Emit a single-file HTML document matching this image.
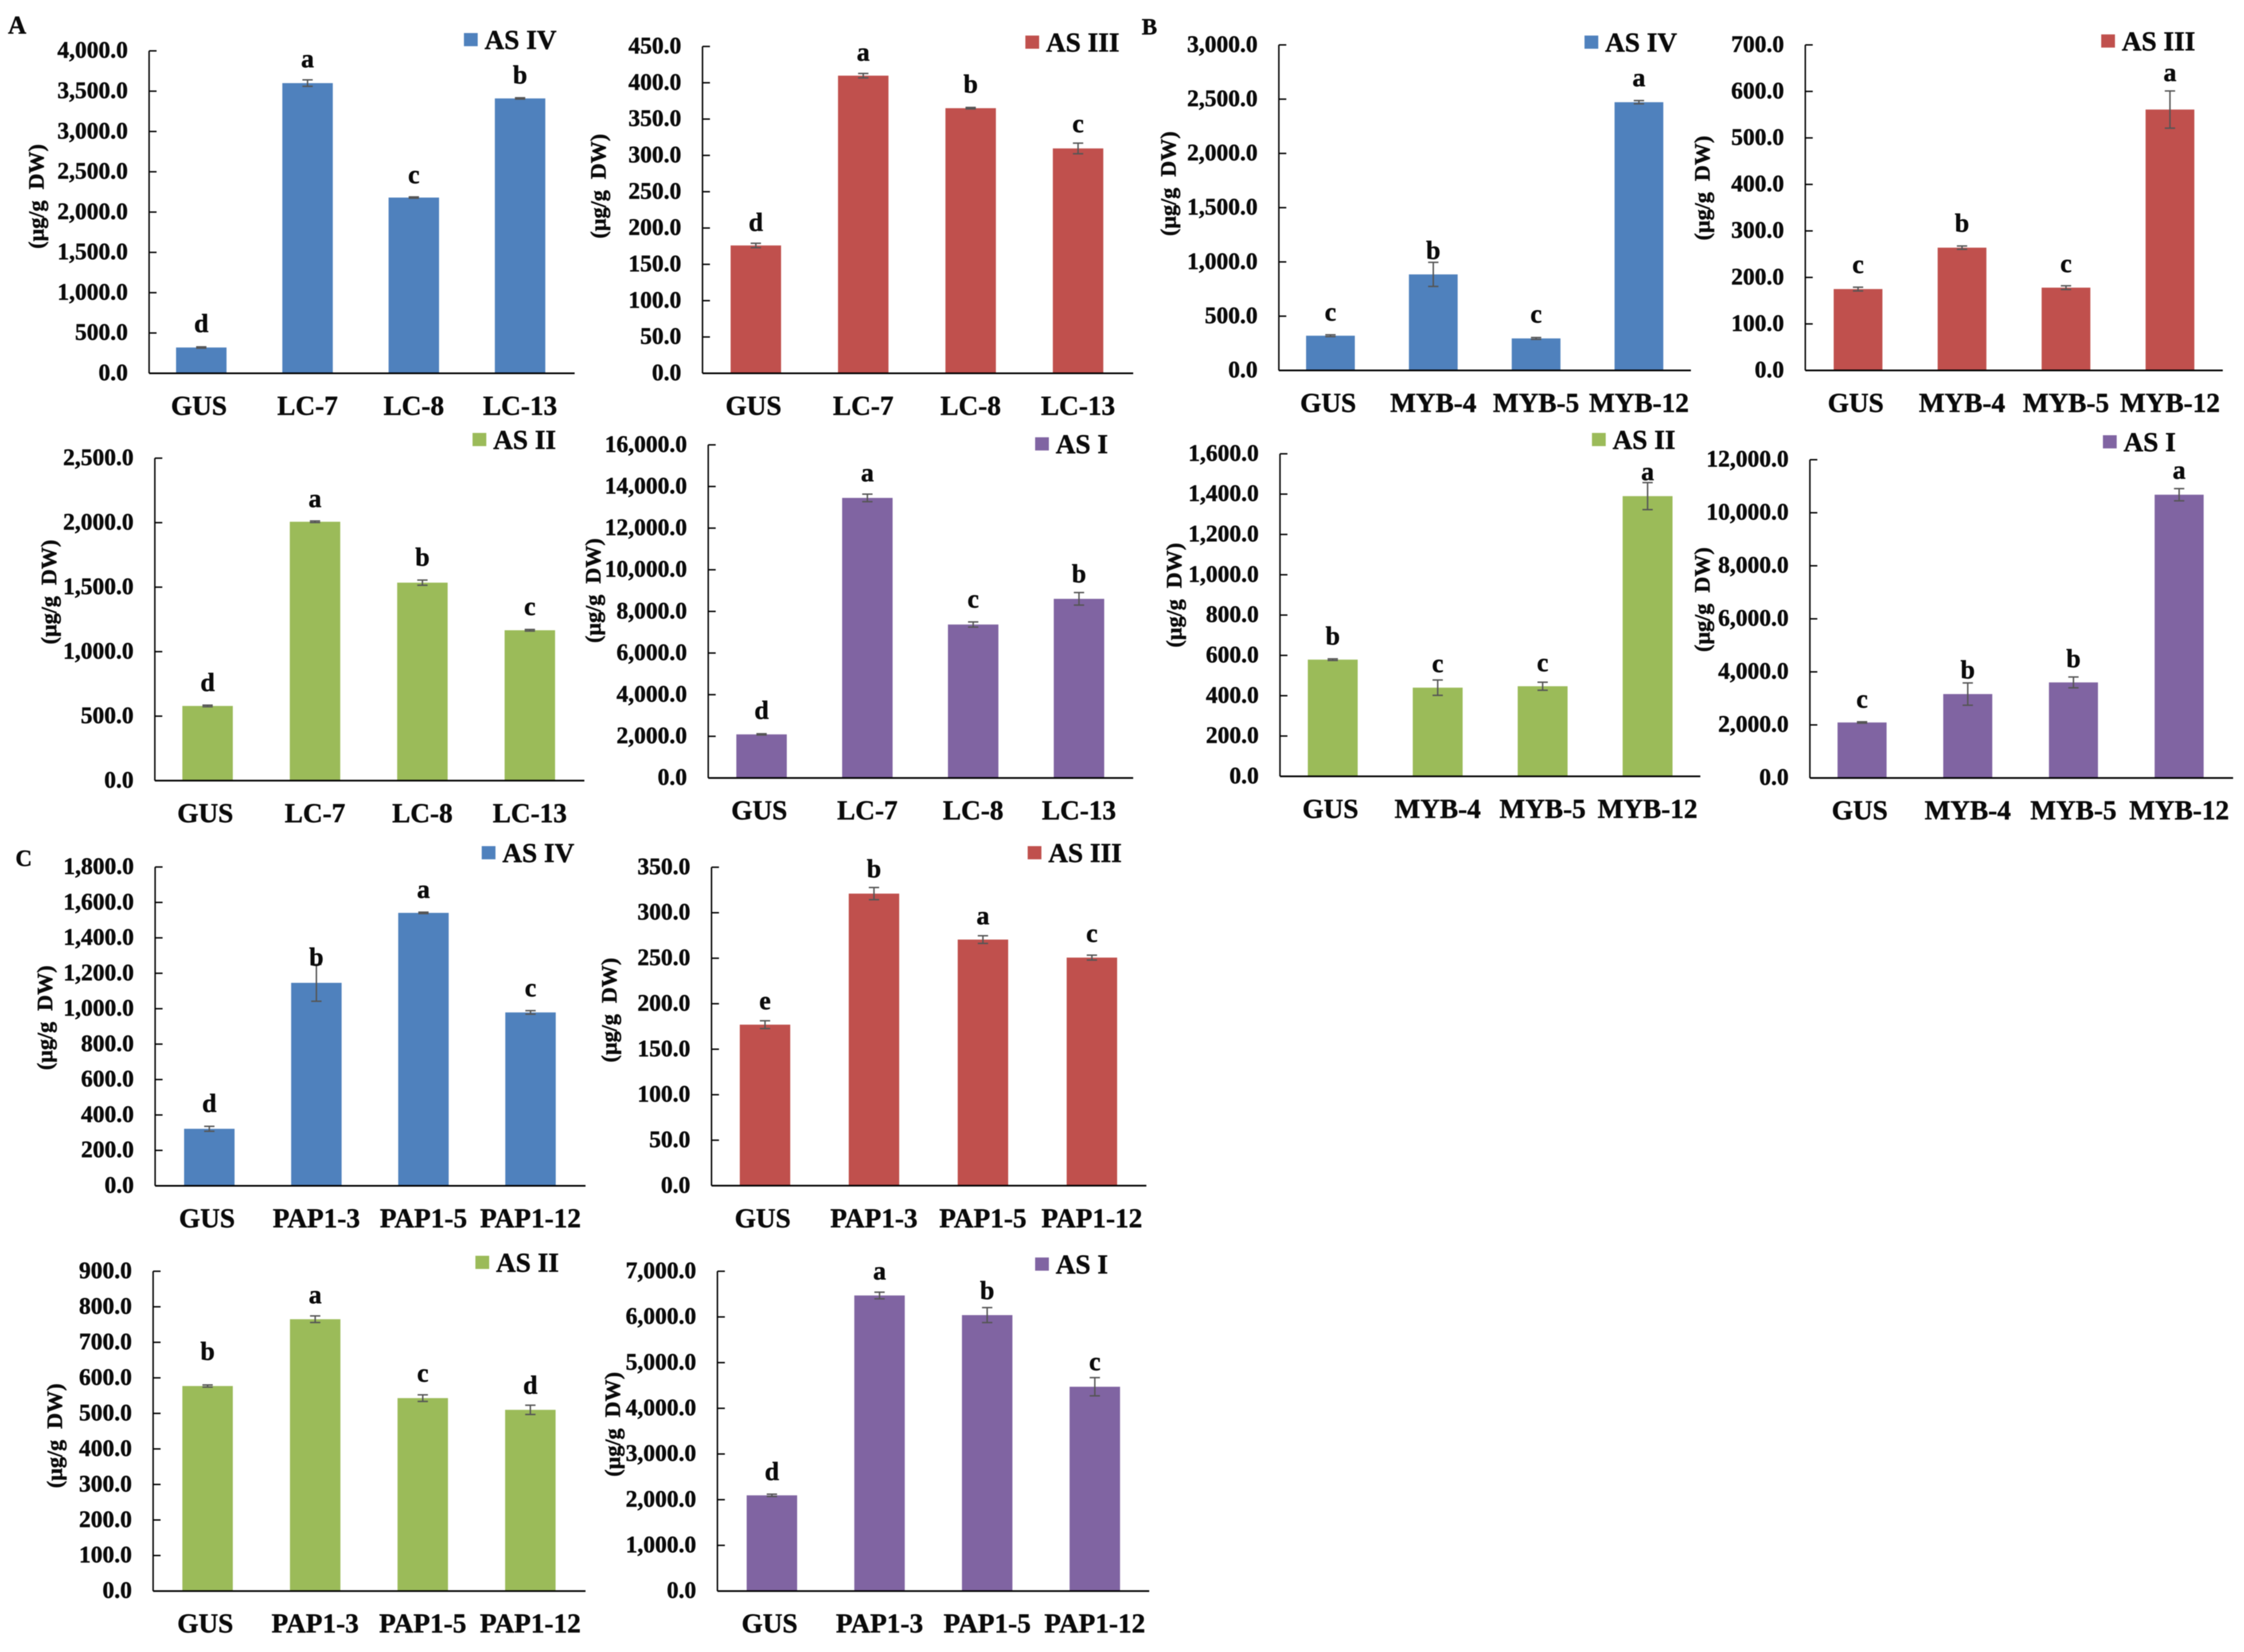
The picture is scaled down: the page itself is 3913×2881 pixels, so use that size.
<!DOCTYPE html>
<html lang="en">
<head>
<meta charset="utf-8">
<title>Astragaloside content in transgenic lines</title>
<style>
html,body{margin:0;padding:0;background:#fff;}
#figure{display:block;width:3913px;height:2881px;background:#fff;filter:blur(0.8px);}
text{font-family:"Liberation Serif",serif;font-weight:bold;fill:#0a0a0a;stroke:#0a0a0a;stroke-width:0.7px;}
</style>
</head>
<body>
<svg id="figure" xmlns="http://www.w3.org/2000/svg" width="3913" height="2881" viewBox="0 0 3913 2881">
  <text x="14" y="58" font-size="44">A</text>
  <text x="1991" y="60" font-size="40">B</text>
  <text x="27" y="1510" font-size="40">C</text>
</svg>
<script>
const lcCategories = ['GUS', 'LC-7', 'LC-8', 'LC-13'];
const mybCategories = ['GUS', 'MYB-4', 'MYB-5', 'MYB-12'];
const papCategories = ['GUS', 'PAP1-3', 'PAP1-5', 'PAP1-12'];

const a1Ticks = [0, 500, 1000, 1500, 2000, 2500, 3000, 3500, 4000];
const a1Values = [320, 3600, 2180, 3410];
const a1Errors = [8, 40, 8, 8];
const a1Letters = ['d', 'a', 'c', 'b'];

const a2Ticks = [0, 50, 100, 150, 200, 250, 300, 350, 400, 450];
const a2Values = [176, 409.8, 365, 309.6];
const a2Errors = [3, 3, 1, 7.3];
const a2Letters = ['d', 'a', 'b', 'c'];

const a3Ticks = [0, 500, 1000, 1500, 2000, 2500];
const a3Values = [579, 2007, 1535, 1166];
const a3Errors = [6, 6, 20, 6];
const a3Letters = ['d', 'a', 'b', 'c'];

const a4Ticks = [0, 2000, 4000, 6000, 8000, 10000, 12000, 14000, 16000];
const a4Values = [2093, 13452, 7370, 8604];
const a4Errors = [30, 182, 123, 300];
const a4Letters = ['d', 'a', 'c', 'b'];

const b1Ticks = [0, 500, 1000, 1500, 2000, 2500, 3000];
const b1Values = [320, 885, 295, 2472];
const b1Errors = [8, 111, 8, 15];
const b1Letters = ['c', 'b', 'c', 'a'];

const b2Ticks = [0, 100, 200, 300, 400, 500, 600, 700];
const b2Values = [175, 264, 178, 561];
const b2Errors = [4, 3.5, 4, 40];
const b2Letters = ['c', 'b', 'c', 'a'];

const b3Ticks = [0, 200, 400, 600, 800, 1000, 1200, 1400, 1600];
const b3Values = [579, 440, 447, 1390];
const b3Errors = [4, 38, 20, 67];
const b3Letters = ['b', 'c', 'c', 'a'];

const b4Ticks = [0, 2000, 4000, 6000, 8000, 10000, 12000];
const b4Values = [2092, 3163, 3602, 10680];
const b4Errors = [25, 420, 204, 230];
const b4Letters = ['c', 'b', 'b', 'a'];

const c1Ticks = [0, 200, 400, 600, 800, 1000, 1200, 1400, 1600, 1800];
const c1Values = [322, 1146, 1541, 979];
const c1Errors = [14, 104, 4, 10];
const c1Letters = ['d', 'b', 'a', 'c'];

const c2Ticks = [0, 50, 100, 150, 200, 250, 300, 350];
const c2Values = [177, 321, 270.5, 250.7];
const c2Errors = [4.3, 6.7, 4.2, 2.7];
const c2Letters = ['e', 'b', 'a', 'c'];

const c3Ticks = [0, 100, 200, 300, 400, 500, 600, 700, 800, 900];
const c3Values = [577, 765, 543, 510];
const c3Errors = [3, 9.3, 9.3, 13];
const c3Letters = ['b', 'a', 'c', 'd'];

const c4Ticks = [0, 1000, 2000, 3000, 4000, 5000, 6000, 7000];
const c4Values = [2095, 6470, 6040, 4472];
const c4Errors = [25, 72, 164, 199];
const c4Letters = ['d', 'a', 'b', 'c'];

const SVG_NS = 'http://www.w3.org/2000/svg';
const figure = document.getElementById('figure');

function mk(tag, attrs, parent, content) {
  const el = document.createElementNS(SVG_NS, tag);
  for (const k in attrs) el.setAttribute(k, attrs[k]);
  if (content !== undefined) el.textContent = content;
  parent.appendChild(el);
  return el;
}

function formatTick(v) {
  return v.toLocaleString('en-US', { minimumFractionDigits: 1, maximumFractionDigits: 1 });
}

function drawPanel(id, series, color, box, categories, ticks, values, errors, letters) {
  const maxTick = ticks[ticks.length - 1];
  const yScale = v => box.bottom - (v / maxTick) * (box.bottom - box.top);
  const xScale = i => box.first + i * box.step;

  const g = mk('g', {}, figure);
  
  

  values.forEach((v, i) => {
    const bar = mk('rect', { x: xScale(i) - box.barW / 2, y: yScale(v), width: box.barW, height: box.bottom - yScale(v), fill: color }, g);
    
    

    const hi = yScale(v + errors[i]);
    const lo = yScale(v - errors[i]);
    const cx = xScale(i);
    const err = mk('path', {
      d: 'M' + cx + ' ' + hi + 'V' + lo + 'M' + (cx - 9) + ' ' + hi + 'H' + (cx + 9) + 'M' + (cx - 9) + ' ' + lo + 'H' + (cx + 9),
      fill: 'none', stroke: '#555', 'stroke-width': 2.5
    }, g);
    
    

    const letter = mk('text', { x: cx, y: hi - box.gaps[i], 'font-size': 45, 'text-anchor': 'middle' }, g, letters[i]);
    
    

    const cat = mk('text', { x: cx + (i === 0 ? -4 : 0), y: box.bottom + 72.5, 'font-size': 47.5, 'text-anchor': 'middle' }, g, categories[i]);
    
    
  });

  const yAxis = mk('line', { x1: box.left, x2: box.left, y1: box.top, y2: box.bottom, stroke: '#000', 'stroke-width': 2.5 }, g);
  
  

  const xAxis = mk('line', { x1: box.left, x2: box.right, y1: box.bottom, y2: box.bottom, stroke: '#000', 'stroke-width': 3 }, g);
  
  

  ticks.forEach(t => {
    const y = yScale(t);
    if (t !== 0) {
      const mark = mk('line', { x1: box.left, x2: box.left + 13, y1: y, y2: y, stroke: '#000', 'stroke-width': 2.5 }, g);
      
      
    }
    const label = mk('text', { x: box.left - 37, y: y + 12, 'font-size': 41, 'text-anchor': 'end' }, g, formatTick(t));
    
    
  });

  const title = mk('text', {
    transform: 'translate(' + box.titleX + ' ' + box.titleY + ') rotate(-90)',
    'font-size': 38.5, 'text-anchor': 'middle'
  }, g, '(\u00b5g/g\u00a0 DW)');
  
  

  const swatch = mk('rect', { x: box.legendX, y: box.legendY, width: 24, height: 23, fill: color }, g);
  
  

  const legend = mk('text', { x: box.legendX + 36, y: box.legendY + 28, 'font-size': 47.5 }, g, series);
  
  
}

const BLUE = '#4f81bd', RED = '#c0504d', GREEN = '#9bbb59', PURPLE = '#8064a2';

drawPanel('lc-as-iv', 'AS IV', BLUE,
  { left: 260, right: 1002, top: 88.7, bottom: 651, first: 351, step: 185.3, barW: 88, gaps: [26, 22, 24, 25], titleX: 76, titleY: 342.6, legendX: 809, legendY: 57.6 },
  lcCategories, a1Ticks, a1Values, a1Errors, a1Letters);
drawPanel('lc-as-iii', 'AS III', RED,
  { left: 1225, right: 1976, top: 81, bottom: 651, first: 1318, step: 187.3, barW: 88, gaps: [22, 22, 26, 19], titleX: 1056, titleY: 324.7, legendX: 1788, legendY: 62 },
  lcCategories, a2Ticks, a2Values, a2Errors, a2Letters);
drawPanel('lc-as-ii', 'AS II', GREEN,
  { left: 270, right: 1019, top: 799, bottom: 1361.4, first: 362, step: 187.3, barW: 88, gaps: [25, 24, 25, 25], titleX: 98, titleY: 1032.5, legendX: 824, legendY: 755 },
  lcCategories, a3Ticks, a3Values, a3Errors, a3Letters);
drawPanel('lc-as-i', 'AS I', PURPLE,
  { left: 1235, right: 1976, top: 775.8, bottom: 1356.7, first: 1328, step: 184.5, barW: 88, gaps: [26, 22, 25, 18], titleX: 1047, titleY: 1030, legendX: 1805, legendY: 762.6 },
  lcCategories, a4Ticks, a4Values, a4Errors, a4Letters);

drawPanel('myb-as-iv', 'AS IV', BLUE,
  { left: 2230, right: 2948.5, top: 78.3, bottom: 646, first: 2320, step: 179.3, barW: 85, gaps: [25, 6, 26, 25], titleX: 2050, titleY: 320.4, legendX: 2763, legendY: 62 },
  mybCategories, b1Ticks, b1Values, b1Errors, b1Letters);
drawPanel('myb-as-iii', 'AS III', RED,
  { left: 3148, right: 3876, top: 78.3, bottom: 646, first: 3240, step: 181.3, barW: 85, gaps: [25, 25, 24, 17], titleX: 2981, titleY: 328, legendX: 3664, legendY: 60 },
  mybCategories, b2Ticks, b2Values, b2Errors, b2Letters);
drawPanel('myb-as-ii', 'AS II', GREEN,
  { left: 2232, right: 2965, top: 791.4, bottom: 1353.9, first: 2324, step: 183, barW: 87, gaps: [25, 14, 19, 4], titleX: 2060, titleY: 1038, legendX: 2776, legendY: 755 },
  mybCategories, b3Ticks, b3Values, b3Errors, b3Letters);
drawPanel('myb-as-i', 'AS I', PURPLE,
  { left: 3156, right: 3894, top: 801.7, bottom: 1356.7, first: 3247, step: 184.3, barW: 85.5, gaps: [25, 8, 17, 17], titleX: 2981, titleY: 1045.7, legendX: 3667, legendY: 759 },
  mybCategories, b4Ticks, b4Values, b4Errors, b4Letters);

drawPanel('pap-as-iv', 'AS IV', BLUE,
  { left: 270.5, right: 1021, top: 1512, bottom: 2068, first: 365, step: 186.7, barW: 88, gaps: [25, -2, 25, 25], titleX: 91, titleY: 1775, legendX: 840, legendY: 1475.6 },
  papCategories, c1Ticks, c1Values, c1Errors, c1Letters);
drawPanel('pap-as-iii', 'AS III', RED,
  { left: 1240.7, right: 1999, top: 1512.4, bottom: 2067.8, first: 1334, step: 190, barW: 88, gaps: [20, 18, 20, 23], titleX: 1075, titleY: 1761.6, legendX: 1792, legendY: 1475.6 },
  papCategories, c2Ticks, c2Values, c2Errors, c2Letters);
drawPanel('pap-as-ii', 'AS II', GREEN,
  { left: 267, right: 1021, top: 2217, bottom: 2774.7, first: 362, step: 187.6, barW: 88, gaps: [44, 22, 23, 20], titleX: 108, titleY: 2504, legendX: 829, legendY: 2190 },
  papCategories, c3Ticks, c3Values, c3Errors, c3Letters);
drawPanel('pap-as-i', 'AS I', PURPLE,
  { left: 1251, right: 2004, top: 2217, bottom: 2774.7, first: 1346, step: 187.7, barW: 88, gaps: [25, 22, 15, 13], titleX: 1081, titleY: 2484, legendX: 1805, legendY: 2193 },
  papCategories, c4Ticks, c4Values, c4Errors, c4Letters);
</script>
</body>
</html>
